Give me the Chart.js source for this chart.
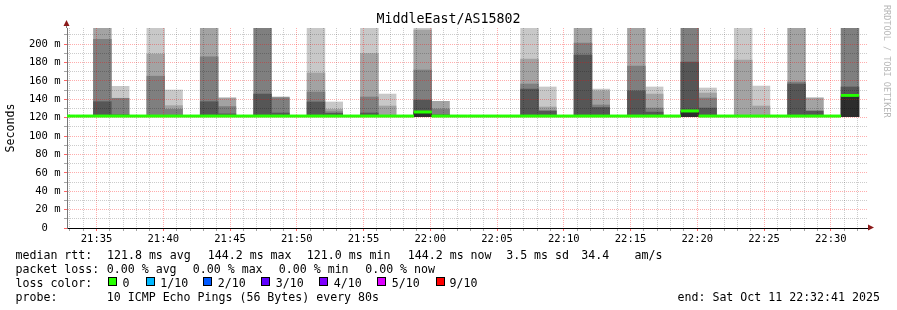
<!DOCTYPE html>
<html>
<head>
<meta charset="utf-8">
<script src="https://cdn.jsdelivr.net/npm/chart.js@4.4.1/dist/chart.umd.min.js"></script>
<style>
  body { margin: 0; background: #fff; }
  #wrap { position: relative; width: 897px; height: 310px; overflow: hidden; }
  #graph { position: absolute; left: 0; top: 0; }
  .txt { position: absolute; font-family: "DejaVu Sans Mono", monospace; font-size: 11.6px; line-height: 14px; white-space: pre; color: #000; }
  #titulo { position: absolute; left: 0; top: 11px; width: 897px; text-align: center; font-family: "DejaVu Sans Mono", monospace; font-size: 13.3px; line-height: 16px; color: #000; }
  .sq { position: absolute; top: 277px; width: 7px; height: 7px; border: 1px solid #000; }
  #marca { position: absolute; left: 882px; top: 5px; writing-mode: vertical-rl; font-family: "DejaVu Sans Mono", monospace; font-size: 8.5px; line-height: 10px; color: #b8b8b8; white-space: pre; }
</style>
</head>
<body>
<div id="wrap">
  <canvas id="graph" width="897" height="310"></canvas>
  <div id="titulo">MiddleEast/AS15802</div>
  <div id="marca">RRDTOOL / TOBI OETIKER</div>

  <div class="txt" style="left:15.5px;top:247.5px">median rtt:</div>
  <div class="txt" style="left:107px;top:247.5px">121.8 ms avg</div>
  <div class="txt" style="left:207.8px;top:247.5px">144.2 ms max</div>
  <div class="txt" style="left:306.8px;top:247.5px">121.0 ms min</div>
  <div class="txt" style="left:407.8px;top:247.5px">144.2 ms now</div>
  <div class="txt" style="left:506.2px;top:247.5px">3.5 ms sd</div>
  <div class="txt" style="left:581.2px;top:247.5px">34.4</div>
  <div class="txt" style="left:634.5px;top:247.5px">am/s</div>

  <div class="txt" style="left:15.5px;top:261.5px">packet loss:</div>
  <div class="txt" style="left:106.8px;top:261.5px">0.00 % avg</div>
  <div class="txt" style="left:192.8px;top:261.5px">0.00 % max</div>
  <div class="txt" style="left:278.8px;top:261.5px">0.00 % min</div>
  <div class="txt" style="left:365.2px;top:261.5px">0.00 % now</div>

  <div class="txt" style="left:15.5px;top:275.5px">loss color:</div>
  <div class="sq" style="left:108px;background:#26ff00"></div>
  <div class="txt" style="left:122.5px;top:275.5px">0</div>
  <div class="sq" style="left:146px;background:#00b8ff"></div>
  <div class="txt" style="left:160.2px;top:275.5px">1/10</div>
  <div class="sq" style="left:203px;background:#0059ff"></div>
  <div class="txt" style="left:217.8px;top:275.5px">2/10</div>
  <div class="sq" style="left:261px;background:#5e00ff"></div>
  <div class="txt" style="left:275.8px;top:275.5px">3/10</div>
  <div class="sq" style="left:319px;background:#7e00ff"></div>
  <div class="txt" style="left:333.8px;top:275.5px">4/10</div>
  <div class="sq" style="left:377px;background:#dd00ff"></div>
  <div class="txt" style="left:391.8px;top:275.5px">5/10</div>
  <div class="sq" style="left:436px;background:#ff0000"></div>
  <div class="txt" style="left:449.5px;top:275.5px">9/10</div>

  <div class="txt" style="left:15.5px;top:289.5px">probe:</div>
  <div class="txt" style="left:106.8px;top:289.5px">10 ICMP Echo Pings (56 Bytes) every 80s</div>
  <div class="txt" style="left:677.5px;top:289.5px">end: Sat Oct 11 22:32:41 2025</div>
</div>

<script>
// datos del grafico //
const axisStart = "21:32:47";
const axisEnd = "22:32:47";
const firstSample = "21:32:06";
const stepSeconds = 80;

const timeLabels = ["21:35", "21:40", "21:45", "21:50", "21:55", "22:00",
  "22:05", "22:10", "22:15", "22:20", "22:25", "22:30"];
const yLabels = ["0  ", "20 m", "40 m", "60 m", "80 m", "100 m",
  "120 m", "140 m", "160 m", "180 m", "200 m"];

const n = null;

// mediana por muestra (ms) //
const medianRtt = [
  121.7, 121.7, 121.7, 121.7, 121.7, 121.7, 121.7, 121.7, 121.7, 121.7, 121.7, 121.7, 121.7, 121.7, 121.7,
  121.7, 121.7, 121.7, 121.7, 121.7, 126.1, 121.7, 121.7, 121.7, 121.7, 121.7, 121.7, 121.7, 121.7, 121.7,
  121.7, 121.7, 121.7, 121.7, 121.7, 127.2, 121.7, 121.7, 121.7, 121.7, 121.7, 121.7, 121.7, 121.7, 144.2
];

// ping mas bajo por muestra (ms) //
const lowestPing = [
  121, 121, 121, 121, 121, 121, 121, 121, 121, 121, 121, 121, 121, 121, 121,
  121, 121, 121, 121, 121, 121, 121, 121, 121, 121, 121, 121, 121, 121, 121,
  121, 121, 121, 121, 121, 121, 121, 121, 121, 121, 121, 121, 121, 121, 121
];

// capas de humo, de la mas clara a la mas oscura (limite superior, ms) //
const smoke1 = [
  n, n, n, 154, n, 230, 150, n, n, n, n, n, n, n, 230,
  137, n, 230, 145.6, n, 230, n, n, n, n, n, 230, 153.3, n, n,
  151, n, n, 153.3, n, n, 152.2, n, 230, 154.3, n, n, 141.5, n, n
];
const smoke2 = [
  n, n, 230, n, n, 189, 133, n, 230, 141.5, n, n, 142.4, n, 168.5,
  129, n, 189.5, 132.6, n, 215.2, 137.7, n, n, n, n, 183.7, 131.5, n, 230,
  149, n, 230, 145.6, n, n, 146.7, n, 182.6, 132.6, n, 230, 141.3, n, n
];
const smoke3 = [
  n, n, 205, 141, n, 165, 129, n, 186, 132, n, 230, 141.5, n, 147.8,
  126.4, n, 142.4, n, n, 171.7, 129.3, n, n, n, n, 156.5, 128, n, 201,
  133.7, n, 176, 130.4, n, 230, 141.3, n, n, n, n, 158.7, n, n, 230
];
const smoke4 = [
  n, n, 137.3, 123, n, n, n, n, 137.3, 124, n, 145.6, 125, n, 137,
  124.6, n, 125, 122.5, n, 139, 123, n, n, n, n, 151, 126.8, n, 188,
  131, n, 149, 126, n, 180.4, 130.4, n, n, n, n, 156.5, 127.2, n, 153.3
];
const smoke5 = [
  n, n, n, n, n, n, n, n, n, n, n, n, n, n, n,
  n, n, n, n, n, 126, n, n, n, n, n, n, n, n, n,
  n, n, n, n, n, 127, n, n, n, n, n, n, n, n, 143.5
];

const smokeColors = ["#c8c8c8", "#a3a3a3", "#7f7f7f", "#565656", "#2d2d2d"];
const lossGreen = "#26ff00";
const gridGray = "rgba(0,0,0,0.2)";
const gridRed = "rgba(255,0,0,0.32)";
const mono = "'DejaVu Sans Mono', monospace";

function toSec(t) {
  const p = t.split(":").map(Number);
  return p[0] * 3600 + p[1] * 60 + (p[2] || 0);
}
function hhmm(v) {
  const h = Math.floor(v / 3600), m = Math.floor((v % 3600) / 60);
  return String(h).padStart(2, "0") + ":" + String(m).padStart(2, "0");
}

const t0 = toSec(firstSample);
const sampleStart = medianRtt.map((_, i) => t0 + i * stepSeconds);

const medianPoints = [];
medianRtt.forEach((v, i) => {
  medianPoints.push({ x: sampleStart[i], y: v }, { x: sampleStart[i] + stepSeconds, y: v });
});

function smokeData(tops) {
  const out = [];
  tops.forEach((top, i) => {
    if (top !== null) out.push({ x: sampleStart[i] + stepSeconds / 2, y: [lowestPing[i], top] });
  });
  return out;
}

const smokeLayers = [smoke1, smoke2, smoke3, smoke4, smoke5].map((tops, k) => ({
  type: "bar",
  xAxisID: "xs",
  data: smokeData(tops),
  backgroundColor: smokeColors[k],
  borderWidth: 0,
  grouped: false,
  barPercentage: 1,
  categoryPercentage: 1,
  order: 5 - k
}));

// decoracion: flechas de ejes y mediana sobre la rejilla //
const decor = {
  id: "decor",
  afterDraw(chart) {
    const { ctx, chartArea: a } = chart;
    ctx.save();
    ctx.beginPath();
    ctx.rect(a.left, a.top, a.right - a.left, a.bottom - a.top);
    ctx.clip();
    chart.getDatasetMeta(0).controller.draw();
    ctx.restore();

    ctx.save();
    ctx.strokeStyle = "#777";
    ctx.lineWidth = 1;
    ctx.beginPath();
    ctx.moveTo(a.left - 0.5, a.top);
    ctx.lineTo(a.left - 0.5, a.top - 3);
    ctx.stroke();
    ctx.fillStyle = "#8b1a1a";
    ctx.beginPath();
    ctx.moveTo(a.left - 0.5, a.top - 8);
    ctx.lineTo(a.left - 3.5, a.top - 2);
    ctx.lineTo(a.left + 2.5, a.top - 2);
    ctx.closePath();
    ctx.fill();
    ctx.beginPath();
    ctx.moveTo(a.right + 6, a.bottom - 0.5);
    ctx.lineTo(a.right, a.bottom - 3.5);
    ctx.lineTo(a.right, a.bottom + 2.5);
    ctx.closePath();
    ctx.fill();
    ctx.restore();
  }
};

new Chart(document.getElementById("graph"), {
  type: "line",
  data: {
    datasets: [
      {
        type: "line",
        xAxisID: "xs",
        data: medianPoints,
        borderColor: lossGreen,
        borderWidth: 2.6,
        pointRadius: 0,
        tension: 0,
        order: 0,
        segment: {
          borderColor: s => Math.abs(s.p0.x - s.p1.x) < 0.01 ? "transparent" : lossGreen
        }
      },
      ...smokeLayers
    ]
  },
  options: {
    responsive: false,
    animation: false,
    events: [],
    layout: { padding: { left: 0, top: 28, right: 29, bottom: 0 } },
    plugins: { legend: { display: false }, tooltip: { enabled: false } },
    scales: {
      xs: {
        type: "linear",
        display: false,
        offset: false,
        min: toSec(axisStart),
        max: toSec(axisEnd)
      },
      x: {
        type: "linear",
        position: "bottom",
        offset: false,
        min: toSec(axisStart),
        max: toSec(axisEnd),
        afterBuildTicks: s => {
          const ticks = [];
          for (let v = Math.ceil(s.min / 60) * 60; v <= s.max; v += 60) ticks.push({ value: v });
          s.ticks = ticks;
        },
        afterFit: s => { s.height = 82; },
        grid: {
          z: 1,
          offset: false,
          tickLength: 3,
          color: c => c.tick && c.tick.value % 300 === 0 ? gridRed : gridGray,
          tickColor: c => c.tick && c.tick.value % 300 === 0 ? "rgba(255,0,0,0.6)" : "rgba(0,0,0,0.35)"
        },
        border: { z: 2, color: "#000", width: 1, dash: [1, 1] },
        ticks: {
          autoSkip: false,
          maxRotation: 0,
          minRotation: 0,
          padding: 2,
          color: "#000",
          font: { family: mono, size: 10.5 },
          callback: v => timeLabels.includes(hhmm(v)) && v % 60 === 0 ? hhmm(v) : ""
        }
      },
      y: {
        type: "linear",
        position: "left",
        min: 0,
        max: 217.4,
        afterBuildTicks: s => {
          const ticks = [];
          for (let v = 0; v <= s.max; v += 10) ticks.push({ value: v });
          s.ticks = ticks;
        },
        afterFit: s => { s.width = 67; },
        grid: {
          z: 1,
          tickLength: 3,
          color: c => c.tick && c.tick.value % 20 === 0 ? gridRed : gridGray,
          tickColor: c => c.tick && c.tick.value % 20 === 0 ? "rgba(255,0,0,0.6)" : "rgba(0,0,0,0.35)"
        },
        border: { z: 2, color: "#777", width: 1, dash: [1, 1] },
        ticks: {
          autoSkip: false,
          padding: 3.5,
          color: "#000",
          font: { family: mono, size: 10.5 },
          callback: v => v % 20 === 0 ? yLabels[v / 20] : ""
        },
        title: {
          display: true,
          text: "Seconds",
          color: "#000",
          font: { family: mono, size: 11.6 },
          padding: { top: 4, bottom: 0 }
        }
      }
    }
  },
  plugins: [decor]
});
</script>
</body>
</html>
